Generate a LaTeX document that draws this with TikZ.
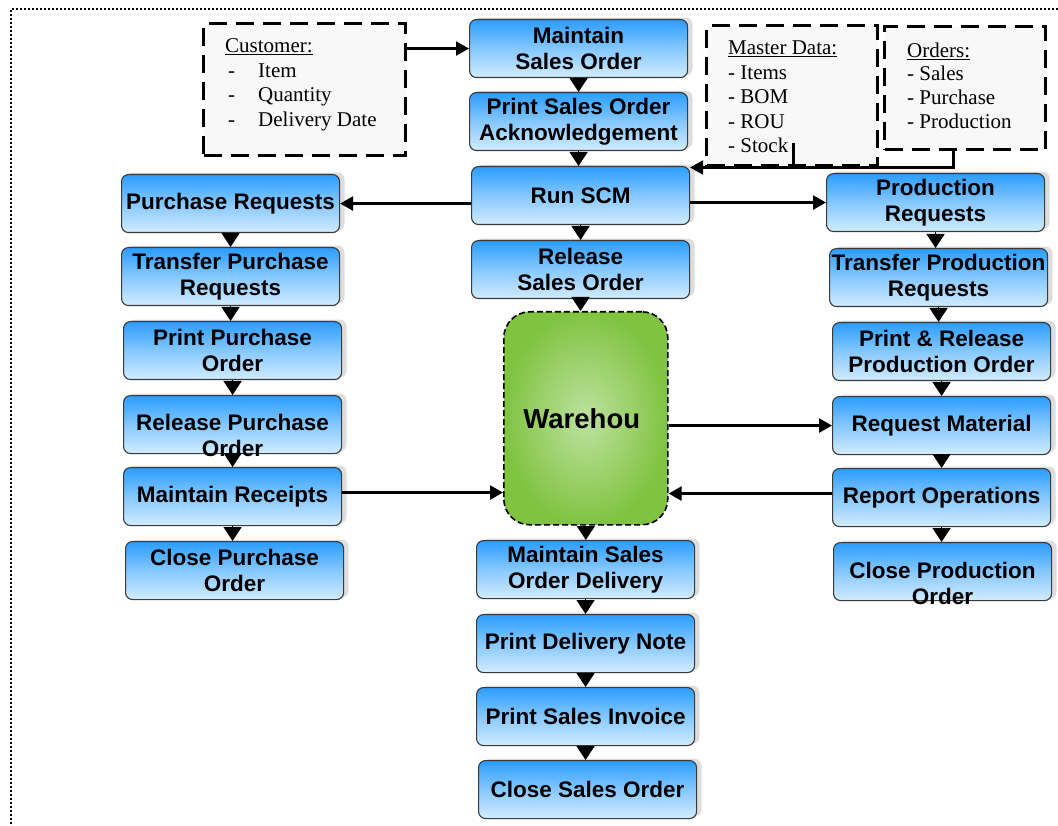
\documentclass[tikz,border=0pt]{standalone}
\usepackage{fontspec}
\setmainfont{Liberation Serif}
\newfontfamily\procfont{Liberation Sans}
\usetikzlibrary{arrows.meta,shadows}

\definecolor{boxtop}{HTML}{2A9DFF}
\definecolor{boxmid}{HTML}{86C8FF}
\definecolor{boxbot}{HTML}{D2ECFF}
\definecolor{boxline}{HTML}{3A3A3A}
\definecolor{shade}{HTML}{DDDDDD}
\definecolor{notefill}{HTML}{F8F8F8}
\definecolor{whin}{HTML}{BDE2A0}
\definecolor{whout}{HTML}{80C341}

\tikzset{
  proc/.style={draw=boxline, line width=1.1pt, rounded corners=7pt,
    minimum width=218pt, minimum height=58pt, inner sep=0pt, align=center,
    top color=boxtop, bottom color=boxbot, middle color=boxmid,
    font=\procfont\bfseries\fontsize{22.5}{25.5}\selectfont,
    general shadow={fill=shade, shadow xshift=5pt, shadow yshift=2pt},
    anchor=north west},
  proclabel/.style={font=\procfont\bfseries\fontsize{22.5}{25.5}\selectfont,
    align=center, inner sep=0pt},
  note/.style={draw=black, line width=3.2pt, dash pattern=on 18pt off 9pt,
    fill=notefill, inner sep=0pt},
  notetext/.style={font=\fontsize{21}{24.5}\selectfont, inner sep=0pt, anchor=base west},
  link/.style={line width=2.4pt, -{Triangle[length=13pt,width=14pt]}},
  plain/.style={line width=2.4pt},
  drop/.style={line width=1.5pt, -{Triangle[length=14pt,width=18pt]}},
  store/.style={draw=black, line width=1.6pt, dash pattern=on 6pt off 3pt,
    rounded corners=26pt, inner color=whin, outer color=whout,
    minimum width=164pt, minimum height=213pt, anchor=north west, inner sep=0pt,
    font=\procfont\bfseries\fontsize{27.5}{30}\selectfont},
  frame/.style={line width=1.8pt, dash pattern=on 1.8pt off 2.2pt}
}

\begin{document}
\begin{tikzpicture}[x=1pt,y=-1pt]
\useasboundingbox (0,0) rectangle (1058,826);

% page frame (top and left edges)
\draw[frame] (1058,9) -- (11,9) -- (11,826);

% data notes
\node[note, minimum width=202pt, minimum height=132pt, anchor=north west] (cust) at (202,22) {};
\node[note, minimum width=171pt, minimum height=140pt, anchor=north west] (master) at (705,24) {};
\node[note, minimum width=161pt, minimum height=123pt, anchor=north west] (orders) at (883,25) {};

\node[notetext] (custh) at (225,53) {\underline{Customer:}};
\node[notetext] (custd1) at (228,78) {-};
\node[notetext] (custd2) at (228,102) {-};
\node[notetext] (custd3) at (228,127) {-};
\node[notetext] (custi1) at (258,78) {Item};
\node[notetext] (custi2) at (258,102) {Quantity};
\node[notetext] (custi3) at (258,127) {Delivery Date};

\node[notetext] (mdh) at (728,55) {\underline{Master Data:}};
\node[notetext] (md1) at (728,80) {- Items};
\node[notetext] (md2) at (728,104) {- BOM};
\node[notetext] (md3) at (728,129) {- ROU};
\node[notetext] (md4) at (728,153) {- Stock};

\node[notetext] (orh) at (907,58) {\underline{Orders:}};
\node[notetext] (or1) at (907,81) {- Sales};
\node[notetext] (or2) at (907,105) {- Purchase};
\node[notetext] (or3) at (907,129) {- Production};

% sales flow (centre column)
\node[proc] (mso) at (469,19) {Maintain\\Sales Order};
\node[proc] (psoa) at (469,92) {Print Sales Order\\Acknowledgement};
\node[proc] (scm) at (471,166) {Run SCM};
\node[proc] (rso) at (471,240) {Release\\Sales Order};
\node[store] (wh) at (503,311) {\hspace*{-8pt}Warehou};
\node[proc] (msod) at (476,540) {Maintain Sales\\Order Delivery};
\node[proc] (pdn) at (476,614) {Print Delivery Note};
\node[proc] (psi) at (476,687) {Print Sales Invoice};
\node[proc] (cso) at (478,760) {Close Sales Order};

% purchase flow (left column)
\node[proc] (pr) at (121,174) {Purchase Requests};
\node[proc] (tpr) at (121,247) {Transfer Purchase\\Requests};
\node[proc] (ppo) at (123,321) {Print Purchase\\Order};
\node[proc, label={[proclabel, yshift=-11pt]center:Release Purchase\\Order}] (rpo) at (123,395) {};
\node[proc] (mr) at (123,467) {Maintain Receipts};
\node[proc] (cpo) at (125,541) {Close Purchase\\Order};

% production flow (right column)
\node[proc] (prq) at (826,173) {Production\\Requests};
\node[proc] (tprq) at (829,248) {Transfer Production\\Requests};
\node[proc] (pro) at (832,322) {Print \& Release\\Production Order};
\node[proc] (rm) at (832,396) {Request Material};
\node[proc] (ro) at (832,468) {Report Operations};
\node[proc, label={[proclabel, yshift=-12pt]center:Close Production\\Order}] (cpro) at (833,542) {};

% step arrows inside each column
\foreach \a/\b in {mso/psoa, psoa/scm, scm/rso, rso/wh, wh/msod, msod/pdn, pdn/psi, psi/cso,
                   pr/tpr, tpr/ppo, ppo/rpo, rpo/mr, mr/cpo,
                   prq/tprq, tprq/pro, pro/rm, rm/ro, ro/cpro}
  \draw[drop] (\a.south) -- (\a.south |- \b.north);

% cross links
\draw[link] (mso.west -| cust.east) -- (mso.west);
\draw[link] (scm.west |- pr.east) -- (pr.east);
\draw[link] (scm.east |- prq.west) -- (prq.west);
\draw[link] (wh.east |- rm.west) -- (rm.west);
\coordinate (mrout) at ([yshift=4pt]mr.east);
\draw[link] (mrout) -- (mrout -| wh.west);
\coordinate (roout) at ([yshift=4pt]ro.west);
\draw[link] (roout) -- (roout -| wh.east);

% master data and orders feed the SCM run
\coordinate (ordout) at ([xshift=-11.5pt]orders.south);
\coordinate (scmin) at ([yshift=-1.5pt]scm.north east);
\coordinate (mdout) at ([xshift=1.5pt,yshift=24pt]master.south);
\draw[link] (ordout) |- (scmin);
\draw[plain] (mdout) -- (mdout |- scmin);
\end{tikzpicture}
\end{document}
